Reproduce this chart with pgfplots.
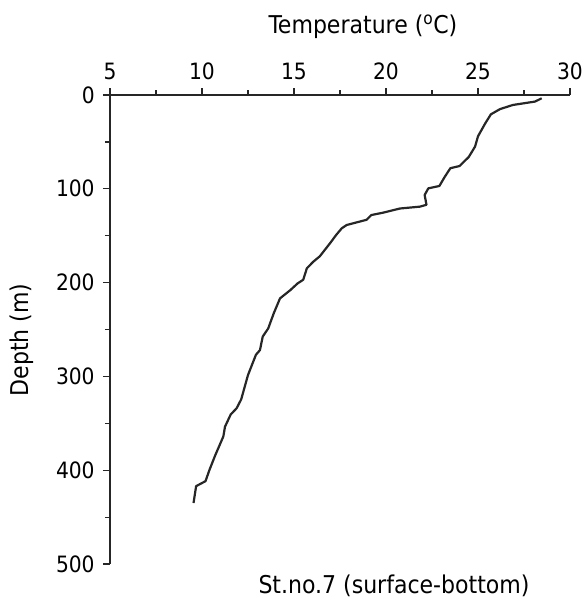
\documentclass[border=0pt]{standalone}
\usepackage{pgfplots}
\pgfplotsset{compat=1.18}
\usepackage{fontspec}
\setmainfont{DejaVu Sans Condensed}
\begin{document}
\fontsize{24.5pt}{29pt}\selectfont
\begin{tikzpicture}
\begin{axis}[
  scale only axis, width=460pt, height=469pt,
  xmin=5, xmax=30, ymin=0, ymax=500, y dir=reverse,
  axis x line*=top, axis y line*=left,
  xtick={5,10,...,30}, minor x tick num=1,
  ytick={0,100,...,500}, minor y tick num=1,
  tick align=outside,
  major tick length=7pt, minor tick length=5pt,
  /pgf/number format/assume math mode=true,
  tick label style={font=\fontsize{22.5pt}{27pt}\selectfont},
  axis line style={line width=1.5pt, black!85},
  every tick/.style={line width=1.2pt, black!85},
  xticklabel style={yshift=0pt},
  yticklabel style={xshift=0pt},
]
\addplot[black!85, line width=2.2pt, line join=round] coordinates {
(28.46,3.5) (28.1,7) (26.9,10.6) (26.2,15) (25.7,20.6) (25.4,30) (25.0,44)
(24.84,55) (24.5,66) (24.0,75.7) (23.5,78) (23.2,87) (22.9,97) (22.3,99.5)
(22.1,106.6) (22.2,117) (21.85,119) (20.76,121) (19.85,125.4) (19.2,128)
(18.95,133) (17.86,138.6) (17.6,142) (17.3,149) (16.96,158) (16.4,172)
(16.05,177.7) (15.7,184.7) (15.5,197) (15.2,200.8) (14.8,208) (14.24,216.8)
(13.9,232.7) (13.6,248.8) (13.3,257.6) (13.15,271.9) (12.93,277) (12.5,298.5)
(12.13,324.5) (11.88,334) (11.56,340.6) (11.25,353.6) (11.16,364) (10.7,385)
(10.4,400) (10.19,411.7) (9.68,417) (9.54,435)
};
\end{axis}
\node[anchor=center] at ([shift={(253pt,68pt)}]current axis.north west) {Temperature (\textsuperscript{o}C)};
\node[anchor=center, rotate=90] at ([shift={(-88pt,-245pt)}]current axis.north west) {Depth (m)};
\node[anchor=center] at ([shift={(284pt,-22pt)}]current axis.south west) {St.no.7 (surface-bottom)};
\pgfresetboundingbox
\path ([shift={(-110pt,-44pt)}]current axis.south west) rectangle ++(587pt,608pt);
\end{tikzpicture}
\end{document}
